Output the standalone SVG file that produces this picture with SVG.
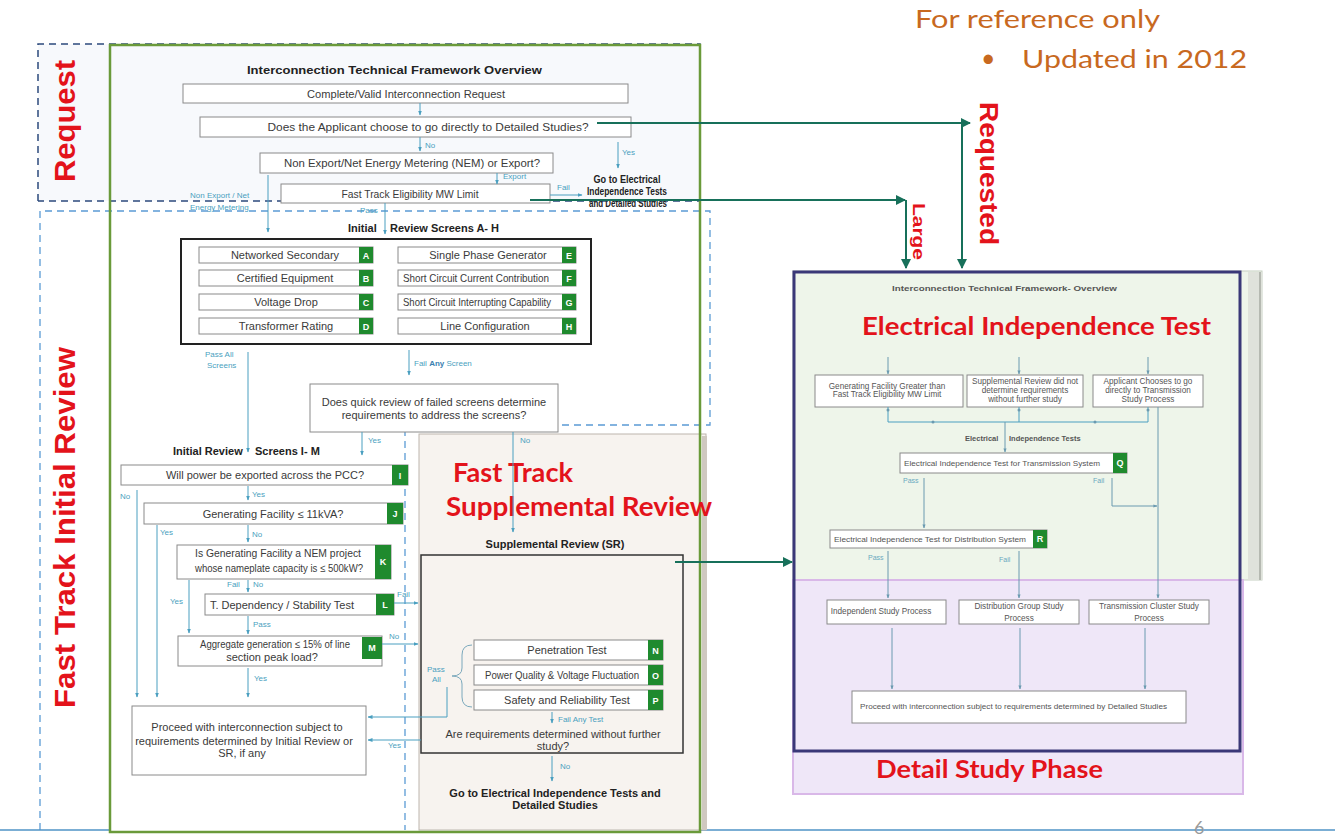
<svg xmlns="http://www.w3.org/2000/svg" width="1335" height="837" viewBox="0 0 1335 837">
<style>
.bx{fill:#fff;stroke:#8a8a8a;stroke-width:1}
.t{font-family:"Liberation Sans",Arial,sans-serif;font-size:11px;fill:#3a3a3a;text-anchor:middle}
.tl{font-family:"Liberation Sans",Arial,sans-serif;font-size:11px;fill:#3a3a3a}
.b{font-weight:bold;fill:#222}
.lb{font-family:"Liberation Sans",Arial,sans-serif;font-size:8px;fill:#4a9fc0}
.cn{stroke:#4a9fc0;stroke-width:1;fill:none;marker-end:url(#ah)}
.ln{stroke:#4a9fc0;stroke-width:1;fill:none}
.gs{fill:#1f8a2e}
.gl{font-family:"Liberation Sans",Arial,sans-serif;font-size:9px;font-weight:bold;fill:#fff;text-anchor:middle}
.redA{font-family:"Liberation Sans",Arial,sans-serif;font-weight:bold;fill:#e3131b}
.redC{font-family:Lato,"Open Sans",sans-serif;font-weight:bold;fill:#e3131b}
.dg{stroke:#17705a;stroke-width:2;fill:none;marker-end:url(#ag)}
.rp{fill:#fff;stroke:#8a8a8a;stroke-width:1}
.rt{font-family:"Liberation Sans",Arial,sans-serif;font-size:8.2px;fill:#555;text-anchor:middle}
.rtl{font-family:"Liberation Sans",Arial,sans-serif;font-size:7.5px;fill:#555}
.rc{stroke:#6a9ab0;stroke-width:1;fill:none;marker-end:url(#ap)}
.rl{font-family:"Liberation Sans",Arial,sans-serif;font-size:7px;fill:#6aa8c0}
</style>
<defs>
<marker id="ah" viewBox="0 0 10 10" refX="9" refY="5" markerWidth="5" markerHeight="5" markerUnits="userSpaceOnUse" orient="auto"><path d="M0,1 L10,5 L0,9 z" fill="#4a9fc0"/></marker>
<marker id="ap" viewBox="0 0 10 10" refX="9" refY="5" markerWidth="4" markerHeight="4" markerUnits="userSpaceOnUse" orient="auto"><path d="M0,1 L10,5 L0,9 z" fill="#6a9ab0"/></marker>
<marker id="ag" viewBox="0 0 10 10" refX="9" refY="5" markerWidth="10" markerHeight="10" markerUnits="userSpaceOnUse" orient="auto"><path d="M0,0 L10,5 L0,10 z" fill="#17705a"/></marker>
</defs>

<rect width="1335" height="837" fill="#fff"/>

<g id="frames">
<rect x="38" y="44" width="662" height="157" fill="#f7f9fc"/>
<path d="M38 201 V44 H700 V201 H38" fill="none" stroke="#2c4a7c" stroke-width="1.5" stroke-dasharray="7 5"/>
<path d="M40 830 V211 H710 V425 H405 V830" fill="none" stroke="#5b9bd5" stroke-width="1.3" stroke-dasharray="7 5"/>
<line x1="0" y1="830" x2="110" y2="830" stroke="#4f93c6" stroke-width="1.5"/>
<line x1="700" y1="830" x2="1335" y2="830" stroke="#4f93c6" stroke-width="1.5"/>
</g>

<g id="supp-panel">
<rect x="419" y="434" width="287" height="396" fill="#f7f3ef" stroke="#bdb6ae" stroke-width="1"/>
<rect x="702" y="436" width="5" height="394" fill="#cfc8c0"/>
</g>

<rect id="green-frame" x="110" y="45" width="590" height="787" fill="none" stroke="#6a9a3a" stroke-width="2.5"/>

<g id="note">
<text x="915" y="28" font-family="Lato,'Open Sans',sans-serif" font-size="25" fill="#c8691f" textLength="245" lengthAdjust="spacingAndGlyphs">For reference only</text>
<text x="981" y="67" font-family="Lato,'Open Sans',sans-serif" font-size="25" fill="#c8691f">•</text>
<text x="1022" y="68" font-family="Lato,'Open Sans',sans-serif" font-size="25" fill="#c8691f" textLength="225" lengthAdjust="spacingAndGlyphs">Updated in 2012</text>
</g>

<g id="labels-red">
<text class="redA" font-size="29" transform="translate(75,182) rotate(-90)" textLength="122" lengthAdjust="spacingAndGlyphs">Request</text>
<text class="redA" font-size="30" transform="translate(75,708) rotate(-90)" textLength="361" lengthAdjust="spacingAndGlyphs">Fast Track Initial Review</text>
<text class="redA" font-size="26" transform="translate(980,102) rotate(90)" textLength="143" lengthAdjust="spacingAndGlyphs">Requested</text>
<text class="redA" font-size="17" transform="translate(913,203) rotate(90)" textLength="57" lengthAdjust="spacingAndGlyphs">Large</text>
<text class="redC" x="453" y="482" font-size="26" textLength="120" lengthAdjust="spacingAndGlyphs">Fast Track</text>
<text class="redC" x="446" y="516" font-size="26" textLength="266" lengthAdjust="spacingAndGlyphs">Supplemental Review</text>
</g>

<g id="title-left"><text class="tl b" x="247" y="74" font-size="11.5" textLength="295" lengthAdjust="spacingAndGlyphs">Interconnection Technical Framework Overview</text></g>
<g id="n-complete"><rect class="bx" x="183" y="84" width="445" height="19"/><text class="tl" x="307" y="97.5" textLength="198" lengthAdjust="spacingAndGlyphs">Complete/Valid Interconnection Request</text></g>
<g id="n-detailed-q"><rect class="bx" x="200" y="117" width="431" height="20"/><text class="tl" x="267.5" y="131" textLength="321" lengthAdjust="spacingAndGlyphs">Does the Applicant choose to go directly to Detailed Studies?</text></g>
<g id="n-nem"><rect class="bx" x="260" y="153" width="293" height="20"/><text class="tl" x="284" y="167" textLength="256" lengthAdjust="spacingAndGlyphs">Non Export/Net Energy Metering (NEM) or Export?</text></g>
<g id="n-ft-limit"><rect class="bx" x="281" y="184" width="269" height="19"/><text class="tl" x="341.5" y="197.5" textLength="137" lengthAdjust="spacingAndGlyphs">Fast Track Eligibility MW Limit</text></g>
<g id="n-goto1"><text class="tl b" x="593.5" y="183" font-size="10" textLength="67" lengthAdjust="spacingAndGlyphs">Go to Electrical</text><text class="tl b" x="587" y="195" font-size="10" textLength="80" lengthAdjust="spacingAndGlyphs">Independence Tests</text><text class="tl b" x="589" y="207" font-size="10" textLength="78" lengthAdjust="spacingAndGlyphs">and Detailed Studies</text></g>

<g id="n-title-ah"><text class="tl b" x="348" y="232" font-size="10.5">Initial</text><text class="tl b" x="390" y="232" font-size="10.5">Review Screens A- H</text></g>
<g id="n-screens-ah">
<rect x="181" y="239" width="410" height="105" fill="#fff" stroke="#222" stroke-width="2"/>
<rect class="bx" x="199" y="247" width="174" height="16"/><rect class="gs" x="359" y="247" width="14" height="16"/><text class="t" x="285" y="259">Networked Secondary</text><text class="gl" x="366" y="258.5">A</text>
<rect class="bx" x="199" y="270" width="174" height="16"/><rect class="gs" x="359" y="270" width="14" height="16"/><text class="t" x="285" y="282">Certified Equipment</text><text class="gl" x="366" y="281.5">B</text>
<rect class="bx" x="199" y="294" width="174" height="16"/><rect class="gs" x="359" y="294" width="14" height="16"/><text class="t" x="286" y="306">Voltage Drop</text><text class="gl" x="366" y="305.5">C</text>
<rect class="bx" x="199" y="318" width="174" height="16"/><rect class="gs" x="359" y="318" width="14" height="16"/><text class="t" x="286" y="330">Transformer Rating</text><text class="gl" x="366" y="329.5">D</text>
<rect class="bx" x="398" y="247" width="178" height="16"/><rect class="gs" x="562" y="247" width="14" height="16"/><text class="t" x="488" y="259">Single Phase Generator</text><text class="gl" x="569" y="258.5">E</text>
<rect class="bx" x="398" y="270" width="178" height="16"/><rect class="gs" x="562" y="270" width="14" height="16"/><text class="tl" x="403" y="282" font-size="10" textLength="146" lengthAdjust="spacingAndGlyphs">Short Circuit Current Contribution</text><text class="gl" x="569" y="281.5">F</text>
<rect class="bx" x="398" y="294" width="178" height="16"/><rect class="gs" x="562" y="294" width="14" height="16"/><text class="tl" x="403" y="306" font-size="9.5" textLength="148" lengthAdjust="spacingAndGlyphs">Short Circuit Interrupting Capability</text><text class="gl" x="569" y="305.5">G</text>
<rect class="bx" x="398" y="318" width="178" height="16"/><rect class="gs" x="562" y="318" width="14" height="16"/><text class="t" x="485" y="330">Line Configuration</text><text class="gl" x="569" y="329.5">H</text>
</g>
<g id="n-quick"><rect class="bx" x="310" y="384" width="248" height="48"/><text class="t" x="434" y="406">Does quick review of failed screens determine</text><text class="t" x="434" y="419">requirements to address the screens?</text></g>

<g id="n-title-im"><text class="tl b" x="173" y="455" font-size="10.5">Initial Review</text><text class="tl b" x="255" y="455" font-size="10.5">Screens I- M</text></g>
<g id="n-I"><rect class="bx" x="121" y="465" width="287" height="20"/><rect class="gs" x="392" y="465" width="16" height="20"/><text class="t" x="265" y="479">Will power be exported across the PCC?</text><text class="gl" x="400" y="478.5">I</text></g>
<g id="n-J"><rect class="bx" x="144" y="503" width="259" height="21"/><rect class="gs" x="387" y="503" width="16" height="21"/><text class="t" x="273" y="517.5">Generating Facility ≤ 11kVA?</text><text class="gl" x="395" y="517">J</text></g>
<g id="n-K"><rect class="bx" x="177" y="545" width="214" height="34"/><rect class="gs" x="375" y="545" width="16" height="34"/><text class="tl" x="195" y="557" font-size="9.8" textLength="166" lengthAdjust="spacingAndGlyphs">Is Generating Facility a NEM project</text><text class="tl" x="195" y="572" font-size="9.5" textLength="168" lengthAdjust="spacingAndGlyphs">whose nameplate capacity is ≤ 500kW?</text><text class="gl" x="383" y="565">K</text></g>
<g id="n-L"><rect class="bx" x="205" y="594" width="189" height="21"/><rect class="gs" x="376" y="594" width="18" height="21"/><text class="t" x="282" y="608.5">T. Dependency / Stability Test</text><text class="gl" x="385" y="608">L</text></g>
<g id="n-M"><rect class="bx" x="178" y="636" width="204" height="30"/><rect class="gs" x="362" y="637" width="20" height="22"/><text class="tl" x="200" y="648" font-size="10" textLength="150" lengthAdjust="spacingAndGlyphs">Aggregate generation ≤ 15% of line</text><text class="t" x="272" y="661">section peak load?</text><text class="gl" x="372" y="651">M</text></g>
<g id="n-proceed"><rect class="bx" x="132" y="706" width="234" height="69"/><text class="t" x="247" y="731">Proceed with interconnection subject to</text><text class="t" x="244" y="745">requirements determined by Initial Review or</text><text class="t" x="242" y="757">SR, if any</text></g>

<g id="n-sr-title"><text class="t b" x="555" y="548" font-size="10.7">Supplemental Review (SR)</text></g>
<g id="n-sr">
<rect x="421" y="555" width="262" height="198" fill="none" stroke="#333" stroke-width="1.5"/>
<rect class="bx" x="474" y="640" width="189" height="20"/><rect class="gs" x="648" y="640" width="15" height="20"/><text class="t" x="567" y="654">Penetration Test</text><text class="gl" x="655.5" y="653.5">N</text>
<rect class="bx" x="474" y="665" width="189" height="20"/><rect class="gs" x="648" y="665" width="15" height="20"/><text class="tl" x="485" y="679" font-size="9.5" textLength="154" lengthAdjust="spacingAndGlyphs">Power Quality &amp; Voltage Fluctuation</text><text class="gl" x="655.5" y="678.5">O</text>
<rect class="bx" x="474" y="690" width="189" height="20"/><rect class="gs" x="648" y="690" width="15" height="20"/><text class="t" x="567" y="704">Safety and Reliability Test</text><text class="gl" x="655.5" y="703.5">P</text>
<path d="M472 645 Q462 645 462 655 V668 Q462 676 452 676 Q462 676 462 684 V697 Q462 707 472 707" fill="none" stroke="#7aa8bc" stroke-width="1"/>
<text class="t" x="553" y="738">Are requirements determined without further</text>
<text class="t" x="553" y="750">study?</text>
</g>
<g id="n-goto2"><text class="t b" x="555" y="797" font-size="10.5">Go to Electrical Independence Tests and</text><text class="t b" x="555" y="809" font-size="10.5">Detailed Studies</text></g>

<g id="right-panel">
<rect x="793" y="271" width="469" height="309" fill="#eef5ea" stroke="#c6cfc2" stroke-width="1"/>
<rect x="1248" y="272" width="14" height="308" fill="#dfe2db"/>
<line x1="1260" y1="272" x2="1260" y2="580" stroke="#b5b9b1" stroke-width="2"/>
<rect x="793" y="580" width="450" height="214" fill="#efe7f8" stroke="#d9b8e8" stroke-width="2"/>
<rect x="794" y="272" width="446" height="479" fill="none" stroke="#3a3878" stroke-width="3"/>
<text class="rtl" x="892" y="291" font-weight="bold" font-size="8.5" fill="#333" textLength="225" lengthAdjust="spacingAndGlyphs">Interconnection Technical Framework- Overview</text>
<text class="redC" x="862" y="335" font-size="25" textLength="349" lengthAdjust="spacingAndGlyphs">Electrical Independence Test</text>
</g>
<g id="r-gen"><rect class="rp" x="815" y="375" width="148" height="32"/><text class="rt" x="887" y="389">Generating Facility Greater than</text><text class="rt" x="887" y="397">Fast Track Eligibility MW Limit</text></g>
<g id="r-supp"><rect class="rp" x="967" y="375" width="116" height="32"/><text class="rt" x="1025" y="384">Supplemental Review did not</text><text class="rt" x="1025" y="393">determine requirements</text><text class="rt" x="1025" y="402">without further study</text></g>
<g id="r-app"><rect class="rp" x="1093" y="375" width="110" height="32"/><text class="rt" x="1148" y="384">Applicant Chooses to go</text><text class="rt" x="1148" y="393">directly to Transmission</text><text class="rt" x="1148" y="402">Study Process</text></g>
<g id="r-eit-title"><text class="rtl" x="965" y="441" font-weight="bold" font-size="8" fill="#333">Electrical</text><text class="rtl" x="1009" y="441" font-weight="bold" font-size="8" fill="#333">Independence  Tests</text></g>
<g id="r-Q"><rect class="rp" x="900" y="453" width="227" height="20"/><rect class="gs" x="1113" y="453" width="14" height="20"/><text class="rtl" x="904" y="466" textLength="196" lengthAdjust="spacingAndGlyphs">Electrical Independence Test for Transmission System</text><text class="gl" x="1120" y="466" font-size="7">Q</text></g>
<g id="r-R"><rect class="rp" x="830" y="530" width="217" height="18"/><rect class="gs" x="1033" y="530" width="14" height="18"/><text class="rtl" x="834" y="542" textLength="192" lengthAdjust="spacingAndGlyphs">Electrical Independence Test for Distribution System</text><text class="gl" x="1040" y="542" font-size="7">R</text></g>
<g id="r-ind"><rect class="rp" x="827" y="600" width="119" height="24"/><text class="rt" x="881" y="614">Independent Study Process</text></g>
<g id="r-dist"><rect class="rp" x="959" y="600" width="120" height="24"/><text class="rt" x="1019" y="609">Distribution Group Study</text><text class="rt" x="1019" y="621">Process</text></g>
<g id="r-trans"><rect class="rp" x="1089" y="600" width="120" height="24"/><text class="rt" x="1149" y="609">Transmission Cluster Study</text><text class="rt" x="1149" y="621">Process</text></g>
<g id="r-proceed"><rect class="rp" x="852" y="691" width="334" height="32"/><text class="rtl" x="860" y="709" textLength="307" lengthAdjust="spacingAndGlyphs">Proceed with interconnection subject to requirements determined by Detailed Studies</text></g>
<g id="r-phase"><text class="redC" x="876" y="778" font-size="25" textLength="227" lengthAdjust="spacingAndGlyphs">Detail Study Phase</text></g>

<g id="page-num"><text x="1194" y="834" font-family="Lato,'Open Sans',sans-serif" font-size="18" fill="#9a9a9a">6</text></g>

<g id="connectors">
<path class="cn" d="M420 103 V115"/>
<path class="cn" d="M420 137 V151"/>
<text class="lb" x="425" y="148">No</text>
<path class="cn" d="M618 142 V168"/>
<text class="lb" x="622" y="155">Yes</text>
<path class="cn" d="M497 173 V184"/>
<text class="lb" x="503" y="179">Export</text>
<path class="cn" d="M550 195 H582"/>
<text class="lb" x="557" y="190">Fail</text>
<path class="cn" d="M268 175 V232"/>
<text class="lb" x="190" y="198">Non Export / Net</text>
<text class="lb" x="190" y="210">Energy Metering</text>
<path class="cn" d="M385 203 V234"/>
<text class="lb" x="360" y="213">Pass</text>

<path class="cn" d="M248 352 V452"/>
<text class="lb" x="205" y="357">Pass All</text>
<text class="lb" x="207" y="368">Screens</text>
<path class="cn" d="M409 350 V375"/>
<text class="lb" x="414" y="366">Fail <tspan font-weight="bold" fill="#3a7fb0">Any</tspan> Screen</text>
<path class="cn" d="M362 432 V455"/>
<text class="lb" x="368" y="443">Yes</text>
<path class="cn" d="M513 432 V532"/>
<text class="lb" x="520" y="443">No</text>

<path class="cn" d="M248 486 V500"/>
<text class="lb" x="252" y="497">Yes</text>
<path class="cn" d="M137 490 V697"/>
<text class="lb" x="120" y="499">No</text>
<path class="cn" d="M157 525 V697"/>
<text class="lb" x="160" y="535">Yes</text>
<path class="cn" d="M248 525 V542"/>
<text class="lb" x="252" y="537">No</text>
<path class="cn" d="M248 580 V592"/>
<text class="lb" x="227" y="587">Fail</text>
<text class="lb" x="253" y="587">No</text>
<path class="cn" d="M189 580 V633"/>
<text class="lb" x="170" y="604">Yes</text>
<path class="cn" d="M394 603 H418"/>
<text class="lb" x="397" y="597">Fail</text>
<path class="cn" d="M248 616 V634"/>
<text class="lb" x="253" y="627">Pass</text>
<path class="cn" d="M382 644 H418"/>
<text class="lb" x="389" y="639">No</text>
<path class="cn" d="M248 668 V697"/>
<text class="lb" x="254" y="681">Yes</text>
<path class="cn" d="M447 687 V717 H368"/>
<text class="lb" x="427" y="672">Pass</text>
<text class="lb" x="432" y="682">All</text>
<path class="cn" d="M421 740 H368"/>
<text class="lb" x="388" y="748">Yes</text>
<path class="cn" d="M552 712 V723"/>
<text class="lb" x="558" y="722">Fail Any Test</text>
<path class="cn" d="M552 756 V781"/>
<text class="lb" x="560" y="769">No</text>

<path class="dg" d="M597 123 H970"/>
<path class="dg" d="M962 123 V268"/>
<path class="dg" d="M530 200 H905"/>
<path class="dg" d="M906 200 V268"/>
<path class="dg" d="M675 562 H792"/>

<path class="rc" d="M888 357 V374"/>
<path class="rc" d="M1019 357 V374"/>
<path class="rc" d="M1148 357 V374"/>
<path class="ln" d="M888 407 V422 H1148 V407" stroke="#6a9ab0"/>
<path class="ln" d="M1019 407 V422" stroke="#6a9ab0"/>
<circle cx="888" cy="410" r="1.5" fill="#6a9ab0"/>
<circle cx="1019" cy="410" r="1.5" fill="#6a9ab0"/>
<circle cx="1148" cy="410" r="1.5" fill="#6a9ab0"/>
<circle cx="933" cy="422" r="1.5" fill="#6a9ab0"/>
<circle cx="1095" cy="422" r="1.5" fill="#6a9ab0"/>
<path class="rc" d="M1005 422 V452"/>
<path class="rc" d="M924 478 V528"/>
<text class="rl" x="903" y="483">Pass</text>
<path class="rc" d="M1112 478 V506 H1157"/>
<text class="rl" x="1093" y="483">Fail</text>
<path class="rc" d="M1158 407 V598"/>
<path class="rc" d="M888 551 V598"/>
<text class="rl" x="868" y="560">Pass</text>
<path class="rc" d="M1019 551 V598"/>
<text class="rl" x="999" y="562">Fail</text>
<path class="rc" d="M892 628 V689"/>
<path class="rc" d="M1020 628 V689"/>
<path class="rc" d="M1145 628 V689"/>
</g>
</svg>
